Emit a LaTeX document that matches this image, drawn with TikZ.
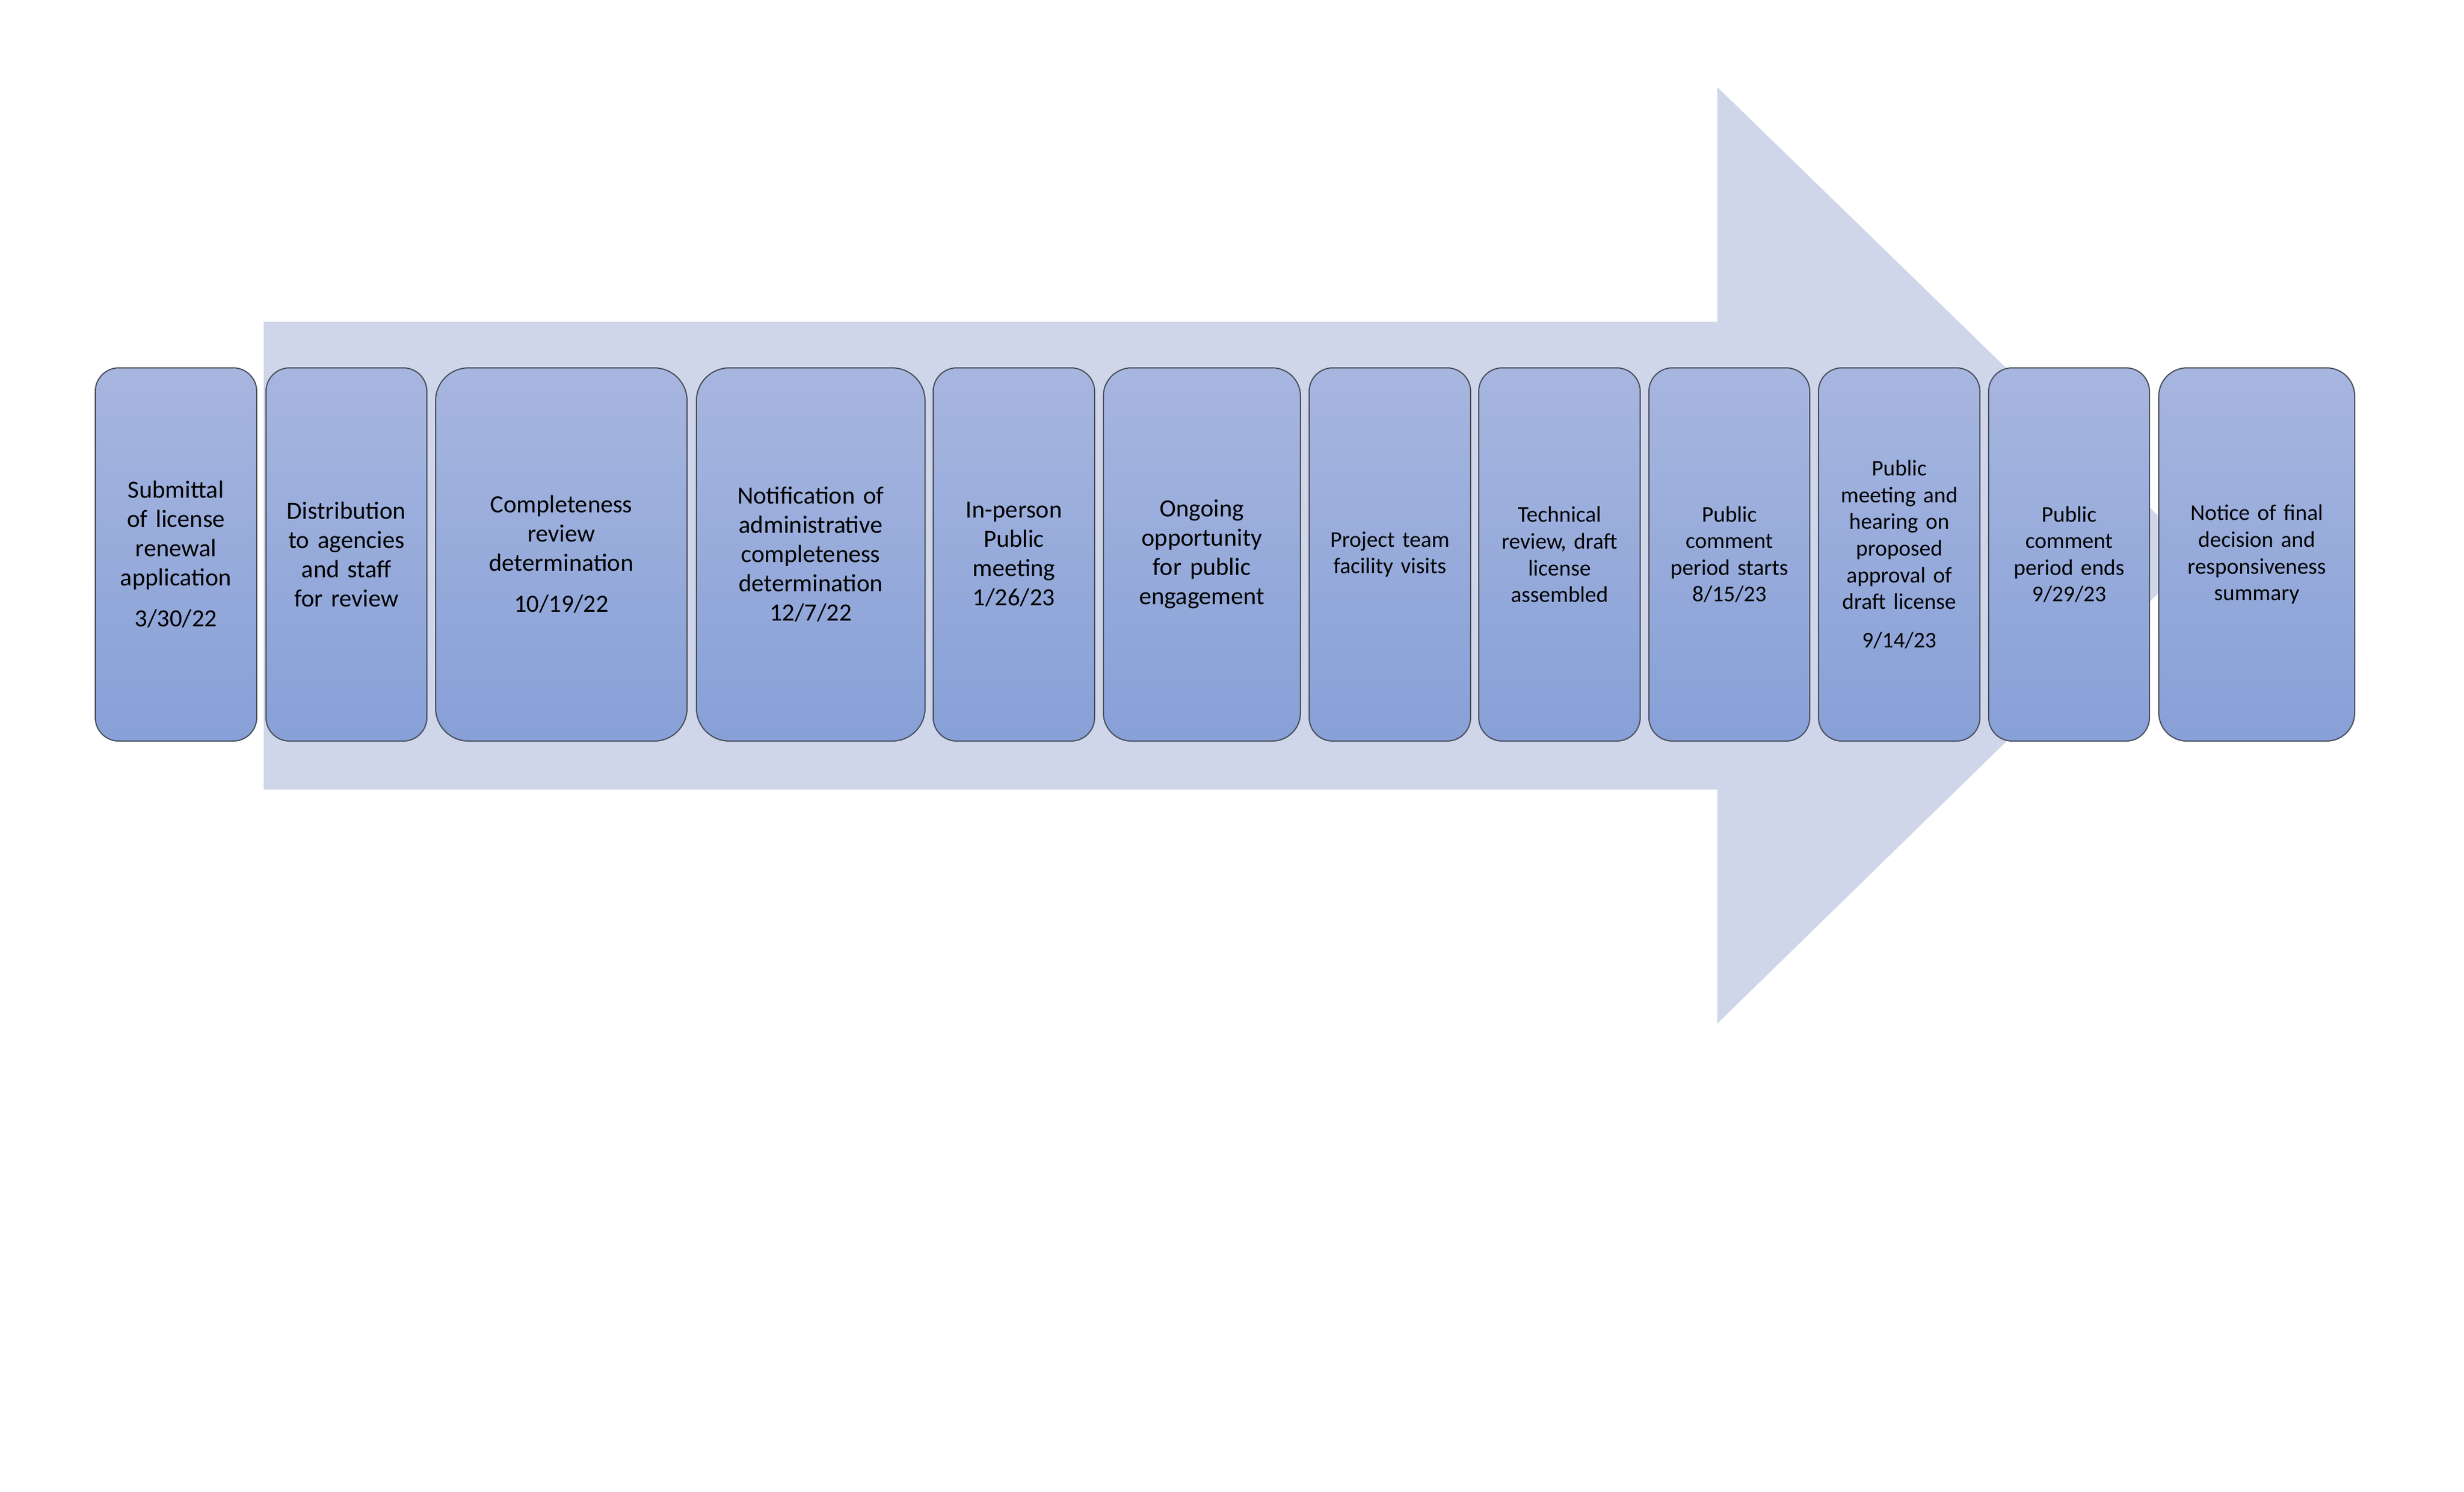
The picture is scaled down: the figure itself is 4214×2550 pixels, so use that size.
\documentclass[tikz,border=0pt]{standalone}
\usepackage{fontspec}
\setmainfont{Carlito}
\definecolor{arrowc}{HTML}{CFD6E9}
\definecolor{boxtop}{HTML}{A7B6DF}
\definecolor{boxbot}{HTML}{87A0D7}
\definecolor{boxline}{HTML}{4A4F5C}
\begin{document}
\begin{tikzpicture}[x=0.25pt,y=-0.25pt,
  stage/.style={draw=boxline,line width=0.5pt,top color=boxtop,bottom color=boxbot,
    rounded corners=10pt,minimum height=159.5pt,minimum width=#1*0.25pt,
    text width=#1*0.25pt-6pt,align=center,inner sep=0pt,font=\fontsize{10.6}{12.5}\selectfont},
  stagesm/.style={stage=#1,font=\fontsize{9.6}{11.4}\selectfont}]
\useasboundingbox (0,0) rectangle (4214,2550);
\fill[arrowc] (451,550) -- (2937,550) -- (2937,149) -- (3759,948) -- (2937,1750) -- (2937,1350) -- (451,1350) -- cycle;
\node[stage=276] (s1) at (301,948) {Submittal\\of license\\renewal\\application\\[5pt]3/30/22};
\node[stage=275] (s2) at (592.5,948) {Distribution\\to agencies\\and staff\\for review};
\node[stage=430,rounded corners=14pt] (s3) at (960,948) {Completeness\\review\\determination\\[5pt]10/19/22};
\node[stage=391,rounded corners=14pt] (s4) at (1386.5,948) {Notification of\\administrative\\completeness\\determination\\12/7/22};
\node[stage=276] (s5) at (1734,948) {In-person\\Public\\meeting\\1/26/23};
\node[stage=337,rounded corners=12pt] (s6) at (2055.5,948) {Ongoing\\opportunity\\for public\\engagement};
\node[stagesm=276] (s7) at (2377,948) {Project team\\facility visits};
\node[stagesm=276] (s8) at (2667,948) {Technical\\review, draft\\license\\assembled};
\node[stagesm=275] (s9) at (2957.5,948) {Public\\comment\\period starts\\8/15/23};
\node[stagesm=276] (s10) at (3248,948) {Public\\meeting and\\hearing on\\proposed\\approval of\\draft license\\[5pt]9/14/23};
\node[stagesm=275] (s11) at (3538.5,948) {Public\\comment\\period ends\\9/29/23};
\node[stagesm=335,rounded corners=12pt] (s12) at (3859.5,948) {Notice of final\\decision and\\responsiveness\\summary};
\end{tikzpicture}
\end{document}
